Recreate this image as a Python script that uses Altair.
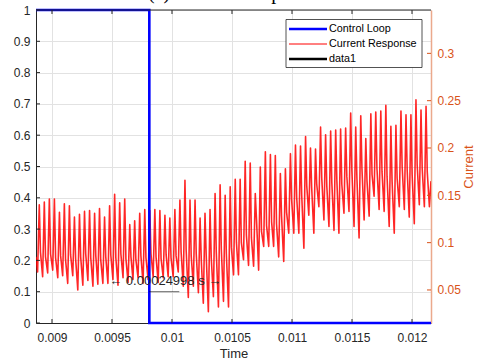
import altair as alt
import pandas as pd

# ---------------- data ----------------
x_ticks = [0.009, 0.0095, 0.01, 0.0105, 0.011, 0.0115, 0.012]
x_domain = [0.0088667, 0.0121583]
left_ticks = [0, 0.1, 0.2, 0.3, 0.4, 0.5, 0.6, 0.7, 0.8, 0.9, 1.0]
right_ticks = [0.05, 0.1, 0.15, 0.2, 0.25, 0.3]
right_domain = [0.0151, 0.3458]

series_names = ["Control Loop", "Current Response", "data1"]
series_colors = ["#0000FF", "#FF0000", "#000000"]
series_widths = [2.6, 0.6, 2.6]

title_text = "(a) Current Response"

# Control loop (square step), time in s
loop_time = [0.0088667, 0.009811, 0.009811, 0.0121583]
loop_value = [1, 1, 0, 0]

# data1 measurement line
data1_time = [0.009811, 0.010061]
data1_value = [0.1, 0.1]

# annotation
ann_time = [0.009944]
ann_value = [0.134]
ann_text = ["\u2190 0.00024998 s \u2192"]

# Current response: peak times (ms), peak values, mid values after each peak,
# trough values before each peak (last trough after final peak)
peak_time_ms = [
    8.894, 8.936, 8.978, 9.020, 9.062, 9.103, 9.145, 9.187, 9.229, 9.271,
    9.313, 9.355, 9.396, 9.438, 9.480, 9.522, 9.564, 9.606, 9.648, 9.689,
    9.731, 9.773, 9.815, 9.857, 9.899, 9.941, 9.982, 10.024, 10.066, 10.108,
    10.150, 10.192, 10.234, 10.275, 10.317, 10.359, 10.401, 10.443, 10.485, 10.527,
    10.568, 10.610, 10.652, 10.694, 10.736, 10.778, 10.820, 10.861, 10.903, 10.945,
    10.987, 11.029, 11.071, 11.113, 11.154, 11.196, 11.238, 11.280, 11.322, 11.364,
    11.405, 11.447, 11.489, 11.531, 11.573, 11.615, 11.657, 11.698, 11.740, 11.782,
    11.824, 11.866, 11.908, 11.950, 11.991, 12.033, 12.075, 12.117]
peak_value = [
    0.140, 0.143, 0.146, 0.146, 0.132, 0.141, 0.139, 0.127, 0.130, 0.133,
    0.134, 0.131, 0.136, 0.127, 0.139, 0.151, 0.142, 0.146, 0.119, 0.123,
    0.131, 0.135, 0.134, 0.135, 0.134, 0.129, 0.126, 0.135, 0.145, 0.166,
    0.145, 0.145, 0.126, 0.131, 0.135, 0.152, 0.161, 0.150, 0.159, 0.167,
    0.167, 0.186, 0.184, 0.152, 0.180, 0.196, 0.193, 0.192, 0.173, 0.178,
    0.194, 0.203, 0.202, 0.212, 0.200, 0.199, 0.222, 0.214, 0.218, 0.219,
    0.220, 0.221, 0.237, 0.222, 0.234, 0.210, 0.236, 0.238, 0.239, 0.245,
    0.223, 0.224, 0.239, 0.235, 0.235, 0.251, 0.240, 0.244]
mid_value = [
    0.090, 0.085, 0.088, 0.084, 0.086, 0.082, 0.087, 0.083, 0.085, 0.088,
    0.084, 0.086, 0.082, 0.085, 0.087, 0.084, 0.088, 0.083, 0.085, 0.082,
    0.086, 0.084, 0.088, 0.085, 0.083, 0.087, 0.084, 0.086, 0.090, 0.092,
    0.086, 0.088, 0.082, 0.087, 0.084, 0.090, 0.093, 0.088, 0.095, 0.100,
    0.100, 0.108, 0.105, 0.125, 0.112, 0.118, 0.122, 0.120, 0.128, 0.132,
    0.145, 0.148, 0.150, 0.160, 0.158, 0.162, 0.168, 0.160, 0.163, 0.165,
    0.162, 0.170, 0.176, 0.168, 0.178, 0.165, 0.172, 0.178, 0.175, 0.170,
    0.165, 0.168, 0.180, 0.176, 0.172, 0.182, 0.178, 0.175]
trough_value = [
    0.069, 0.064, 0.068, 0.071, 0.063, 0.065, 0.057, 0.065, 0.050, 0.055,
    0.060, 0.054, 0.056, 0.057, 0.057, 0.061, 0.055, 0.063, 0.058, 0.061,
    0.063, 0.057, 0.061, 0.064, 0.058, 0.063, 0.064, 0.064, 0.069, 0.054,
    0.042, 0.054, 0.047, 0.036, 0.027, 0.043, 0.032, 0.038, 0.032, 0.066,
    0.066, 0.082, 0.076, 0.075, 0.071, 0.096, 0.096, 0.096, 0.085, 0.080,
    0.110, 0.110, 0.110, 0.094, 0.129, 0.110, 0.138, 0.124, 0.117, 0.113,
    0.110, 0.131, 0.133, 0.117, 0.105, 0.124, 0.128, 0.149, 0.135, 0.133,
    0.117, 0.110, 0.138, 0.135, 0.127, 0.120, 0.140, 0.138, 0.138]
start_point = (8.8667, 0.085)
end_point = (12.158, 0.165)

# ---------------- build tables ----------------
cur_t, cur_v = [start_point[0]], [start_point[1]]
for k, tp in enumerate(peak_time_ms):
    cur_t += [tp - 0.014, tp, tp + 0.010]
    cur_v += [trough_value[k], peak_value[k], mid_value[k]]
cur_t += [peak_time_ms[-1] + 0.028, end_point[0]]
cur_v += [trough_value[-1], end_point[1]]

cur_df = pd.DataFrame({"time": [t / 1000 for t in cur_t], "value": cur_v,
                       "series": "Current Response", "idx": range(len(cur_t))})
loop_df = pd.DataFrame({"time": loop_time, "value": loop_value,
                        "series": "Control Loop", "idx": range(len(loop_time))})
d1_df = pd.DataFrame({"time": data1_time, "value": data1_value,
                      "series": "data1", "idx": range(len(data1_time))})
ann_df = pd.DataFrame({"time": ann_time, "value": ann_value, "label": ann_text})
xtick_df = pd.DataFrame({"time": x_ticks})
ltick_df = pd.DataFrame({"value": left_ticks})
rtick_df = pd.DataFrame({"value": right_ticks})

FONT = "Liberation Sans"
AX = "#262626"
ORANGE = "#D95319"

x_enc = alt.X("time:Q",
              scale=alt.Scale(domain=x_domain, nice=False, zero=False),
              axis=alt.Axis(values=x_ticks, format="~g", grid=True, gridColor="#e2e2e2",
                            domainColor=AX, labelColor=AX, ticks=False, tickSize=0,
                            labelPadding=9, labelFontSize=12, labelFont=FONT,
                            title="Time", titleFont=FONT, titleFontSize=13,
                            titleFontWeight="normal", titleColor=AX, titlePadding=4))

y_left = alt.Y("value:Q",
               scale=alt.Scale(domain=[0, 1], nice=False, zero=False),
               axis=alt.Axis(values=left_ticks, format="~g", orient="left", grid=True,
                             gridColor="#e2e2e2", domainColor=AX, labelColor=AX,
                             ticks=False, tickSize=0, labelPadding=6, labelFontSize=12,
                             labelFont=FONT, title=None))

y_right = alt.Y("value:Q",
                scale=alt.Scale(domain=right_domain, nice=False, zero=False),
                axis=alt.Axis(values=right_ticks, format="~g", orient="right", grid=False,
                              domainColor="#EBA98C", domainWidth=1.5, labelColor=ORANGE,
                              ticks=False, tickSize=0, labelPadding=6,
                              labelFontSize=12, labelFont=FONT,
                              title="Current", titleColor=ORANGE, titleFont=FONT,
                              titleFontSize=13, titleFontWeight="normal",
                              titleAngle=270, titlePadding=15))

color_enc = alt.Color("series:N",
                      scale=alt.Scale(domain=series_names, range=series_colors),
                      legend=None)
width_enc = alt.StrokeWidth("series:N",
                            scale=alt.Scale(domain=series_names, range=series_widths),
                            legend=None)

red = alt.Chart(cur_df).mark_line(clip=True, strokeOpacity=0.85, strokeJoin="round").encode(
    x=x_enc, y=y_right, color=color_enc, strokeWidth=width_enc, order="idx:Q")

right_ticks_chart = alt.Chart(rtick_df).mark_rule(color=ORANGE, strokeWidth=1).encode(
    y=y_right, x=alt.value(391), x2=alt.value(395))

right_group = alt.layer(red, right_ticks_chart)

blue = alt.Chart(loop_df).mark_line().encode(
    x=x_enc, y=y_left, color=color_enc, strokeWidth=width_enc, order="idx:Q")

black = alt.Chart(d1_df).mark_line().encode(
    x=x_enc, y=y_left, color=color_enc, strokeWidth=width_enc, order="idx:Q")

txt = alt.Chart(ann_df).mark_text(font=FONT, fontSize=13, color=AX, baseline="middle",
                                  align="center").encode(x=x_enc, y=y_left, text="label:N")

top_border = alt.Chart(ann_df).mark_rule(color=AX, strokeWidth=1).encode(
    x=alt.value(0), x2=alt.value(395), y=alt.value(0))

# inward MATLAB-style ticks
bottom_ticks = alt.Chart(xtick_df).mark_rule(color=AX, strokeWidth=1).encode(
    x=x_enc, y=alt.value(309), y2=alt.value(313))
top_ticks = alt.Chart(xtick_df).mark_rule(color=AX, strokeWidth=1).encode(
    x=x_enc, y=alt.value(0), y2=alt.value(4))
left_ticks_chart = alt.Chart(ltick_df).mark_rule(color=AX, strokeWidth=1).encode(
    y=y_left, x=alt.value(0), x2=alt.value(4))

title_mark = alt.Chart(ann_df).mark_text(font="Liberation Serif", fontSize=20, color="#000000",
                                         align="center", baseline="alphabetic").encode(
    x=alt.value(197), y=alt.value(-11), text=alt.value(title_text))

# ---- legend box (MATLAB style, upper right) ----
legend_layers = [
    alt.Chart(ann_df).mark_rect(fill="white", stroke=AX, strokeWidth=0.8).encode(
        x=alt.value(250), x2=alt.value(386), y=alt.value(9.5), y2=alt.value(57.5))
]
for i, (name, col, w) in enumerate(zip(series_names, series_colors, series_widths)):
    yy = 19 + 15 * i
    legend_layers.append(
        alt.Chart(ann_df).mark_rule(color=col, strokeWidth=max(w, 1.0)).encode(
            x=alt.value(253), x2=alt.value(291), y=alt.value(yy)))
    legend_layers.append(
        alt.Chart(ann_df).mark_text(font=FONT, fontSize=10.8, color="#000000",
                                    align="left", baseline="middle").encode(
            x=alt.value(293), y=alt.value(yy), text=alt.value(name)))

left_group = alt.layer(blue, black, txt, top_border, bottom_ticks, top_ticks,
                       left_ticks_chart, title_mark, *legend_layers)

chart = alt.layer(right_group, left_group).resolve_scale(y="independent").properties(
    width=395, height=313,
    autosize=alt.AutoSizeParams(type="none"),
    padding={"left": 36, "top": 10, "right": 47, "bottom": 38},
).configure_view(stroke=None).configure(font=FONT, background="white")

chart.save("out.html", embed_options={"renderer": "svg", "actions": False})
